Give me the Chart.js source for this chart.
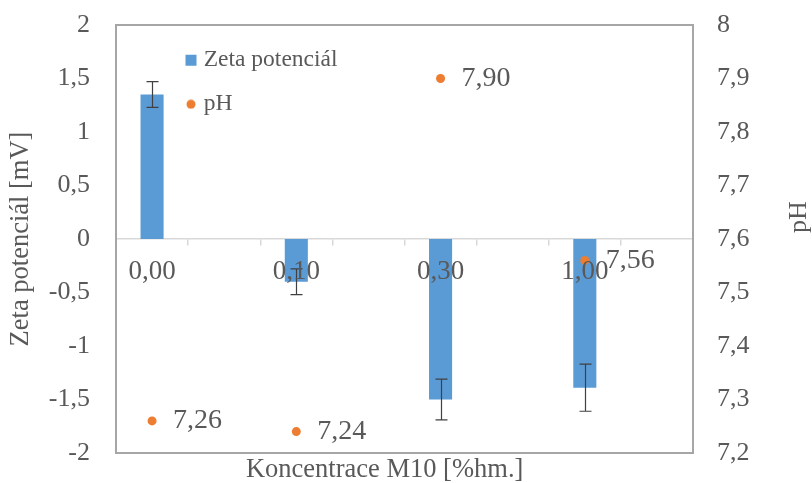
<!DOCTYPE html>
<html>
<head>
<meta charset="utf-8">
<script src="https://cdn.jsdelivr.net/npm/chart.js@4/dist/chart.umd.min.js"></script>
<style>
html, body { margin: 0; padding: 0; background: #ffffff; }
#wrap { width: 812px; height: 483px; }
</style>
</head>
<body>
<div id="wrap"><canvas id="c" width="812" height="483"></canvas></div>
<script>
// ---- data ----
const categories = ['0,00', '', '0,10', '', '0,30', '', '1,00', ''];
const zeta      = [1.35, null, -0.40, null, -1.50, null, -1.39, null];
const zetaErr   = [0.12, null, 0.12, null, 0.19, null, 0.22, null];
const ph        = [7.26, null, 7.24, null, 7.90, null, 7.56, null];
const zetaTicks = { min: -2, max: 2, step: 0.5 };
const phTicks   = { min: 7.2, max: 8, step: 0.1 };

const TEXT = '#595959';
const FRAME = '#A6A6A6';
const ZERO = '#D9D9D9';
const SERIF = '"Liberation Serif", "Times New Roman", serif';
const comma = v => String(Math.round(v * 10) / 10).replace('.', ',');

// small round marker used for the pH legend entry
const dot = document.createElement('canvas');
dot.width = 10; dot.height = 10;
(function () {
  const d = dot.getContext('2d');
  d.fillStyle = '#ED7D31';
  d.beginPath(); d.arc(5, 5, 4.5, 0, Math.PI * 2); d.fill();
})();

const extras = {
  id: 'extras',
  afterLayout(chart) {
    const lg = chart.legend, ca = chart.chartArea;
    if (!lg) return;
    lg.left = ca.left + 53.5;
    lg.top = ca.top + 3;
    lg.right = ca.right;
    lg.bottom = ca.bottom;
  },
  afterDatasetsDraw(chart) {
    const ctx = chart.ctx;
    const ys = chart.scales.y;
    // error bars
    const barMeta = chart.getDatasetMeta(0);
    ctx.save();
    ctx.strokeStyle = '#404040';
    ctx.lineWidth = 1.2;
    barMeta.data.forEach((el, i) => {
      if (zeta[i] == null) return;
      const x = Math.round(el.x) + 0.5;
      const yT = ys.getPixelForValue(zeta[i] + zetaErr[i]);
      const yB = ys.getPixelForValue(zeta[i] - zetaErr[i]);
      ctx.beginPath();
      ctx.moveTo(x, yT); ctx.lineTo(x, yB);
      ctx.moveTo(x - 6, yT); ctx.lineTo(x + 6, yT);
      ctx.moveTo(x - 6, yB); ctx.lineTo(x + 6, yB);
      ctx.stroke();
    });
    // pH value labels
    const phMeta = chart.getDatasetMeta(1);
    ctx.fillStyle = TEXT;
    ctx.font = '28px ' + SERIF;
    ctx.textAlign = 'left';
    ctx.textBaseline = 'middle';
    phMeta.data.forEach((pt, i) => {
      if (ph[i] == null) return;
      ctx.fillText(ph[i].toFixed(2).replace('.', ','), pt.x + 21, pt.y);
    });
    ctx.restore();
  },
  afterDraw(chart) {
    // right axis title, reading bottom-to-top
    const ctx = chart.ctx, ca = chart.chartArea;
    ctx.save();
    ctx.translate(chart.width - 6, (ca.top + ca.bottom) / 2 - 22);
    ctx.rotate(-Math.PI / 2);
    ctx.fillStyle = TEXT;
    ctx.font = '26px ' + SERIF;
    ctx.textAlign = 'center';
    ctx.textBaseline = 'alphabetic';
    ctx.fillText('pH', 0, 0);
    ctx.restore();
  }
};

new Chart(document.getElementById('c'), {
  data: {
    labels: categories,
    datasets: [
      {
        type: 'bar',
        label: 'Zeta potenciál',
        data: zeta,
        yAxisID: 'y',
        xAxisID: 'x',
        backgroundColor: '#5B9BD5',
        barPercentage: 0.32,
        categoryPercentage: 1,
        pointStyle: 'rect',
        order: 1
      },
      {
        type: 'line',
        label: 'pH',
        data: ph,
        yAxisID: 'y1',
        xAxisID: 'x',
        showLine: false,
        pointRadius: 4.5,
        pointHoverRadius: 4.5,
        pointBorderWidth: 0,
        pointBackgroundColor: '#ED7D31',
        borderColor: '#ED7D31',
        backgroundColor: '#ED7D31',
        order: 0
      }
    ]
  },
  options: {
    responsive: false,
    animation: false,
    layout: { padding: 0 },
    plugins: {
      tooltip: { enabled: false },
      legend: {
        display: true,
        position: 'chartArea',
        align: 'start',
        labels: {
          usePointStyle: true,
          boxWidth: 2,
          boxHeight: 11,
          padding: 20.5,
          color: TEXT,
          font: { family: SERIF, size: 23.5 },
          sort: (a, b) => a.datasetIndex - b.datasetIndex,
          generateLabels(chart) {
            const items = Chart.defaults.plugins.legend.labels.generateLabels(chart);
            items.forEach(it => { if (it.datasetIndex === 1) it.pointStyle = dot; });
            return items;
          }
        }
      }
    },
    scales: {
      x: {
        type: 'category',
        position: { y: 0 },
        offset: true,
        grid: { display: true, drawOnChartArea: false, drawTicks: true, tickLength: 6, color: ZERO, lineWidth: 1.5, offset: true },
        border: { display: true, color: ZERO, width: 1.5 },
        ticks: { z: 1, color: TEXT, font: { family: SERIF, size: 27 }, padding: 11, autoSkip: false, maxRotation: 0 }
      },
      xBottom: {
        type: 'category',
        position: 'bottom',
        labels: categories,
        offset: true,
        grid: { display: false, drawTicks: false },
        border: { display: true, color: FRAME, width: 2 },
        ticks: { display: false },
        title: {
          display: true,
          text: 'Koncentrace M10 [%hm.]' + '\u00a0'.repeat(6),
          color: TEXT,
          font: { family: SERIF, size: 26.5, lineHeight: 1 },
          padding: { top: 0, bottom: 0 }
        },
        afterFit(s) { s.height = 30; s.paddingLeft = 0; s.paddingRight = 0; }
      },
      xTop: {
        type: 'category',
        position: 'top',
        labels: categories,
        offset: true,
        grid: { display: false, drawTicks: false },
        border: { display: true, color: FRAME, width: 2 },
        ticks: { display: false },
        afterFit(s) { s.height = 25; s.paddingLeft = 0; s.paddingRight = 0; }
      },
      y: {
        type: 'linear',
        position: 'left',
        min: zetaTicks.min,
        max: zetaTicks.max,
        grid: { display: false, drawTicks: false },
        border: { display: true, color: FRAME, width: 2 },
        ticks: { stepSize: zetaTicks.step, color: TEXT, font: { family: SERIF, size: 26 }, padding: 26, callback: v => comma(v) },
        title: {
          display: true,
          text: 'Zeta potenciál [mV]',
          color: TEXT,
          font: { family: SERIF, size: 26.5, lineHeight: 1 },
          padding: { top: 8, bottom: 0 }
        },
        afterFit(s) { s.width = 116; s.paddingTop = 0; s.paddingBottom = 0; }
      },
      y1: {
        type: 'linear',
        position: 'right',
        min: phTicks.min,
        max: phTicks.max,
        grid: { display: false, drawTicks: false },
        border: { display: true, color: FRAME, width: 2 },
        ticks: { stepSize: phTicks.step, color: TEXT, font: { family: SERIF, size: 26 }, padding: 24, callback: v => comma(v) },
        afterFit(s) { s.width = 119; s.paddingTop = 0; s.paddingBottom = 0; }
      }
    }
  },
  plugins: [extras]
});
</script>
</body>
</html>
